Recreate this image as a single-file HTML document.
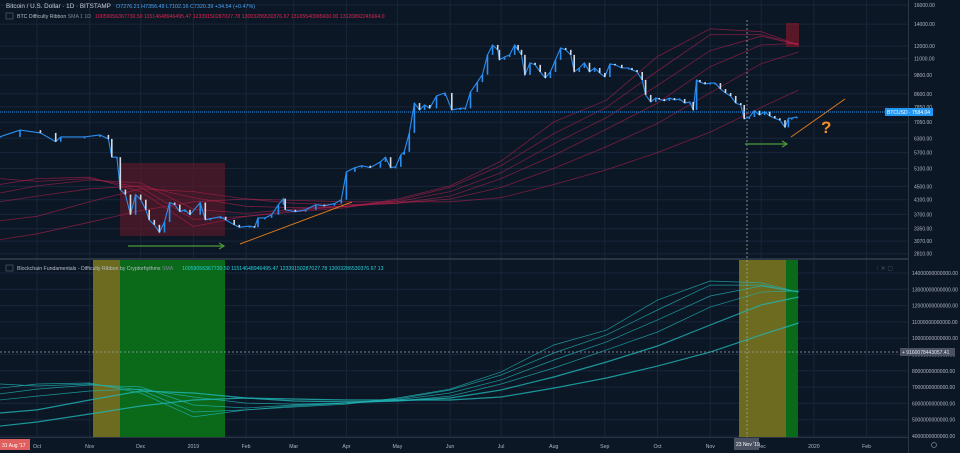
<!DOCTYPE html>
<html><head><meta charset="utf-8"><style>
html,body{margin:0;padding:0;background:#0c1726;}
svg{display:block;font-family:"Liberation Sans",sans-serif;}
</style></head><body>
<svg id="chart" width="960" height="453" viewBox="0 0 960 453" xmlns="http://www.w3.org/2000/svg">
<rect x="0" y="0" width="960" height="453" fill="#0c1726"/>
<g id="grid"></g>
<g id="bands">
<rect x="120" y="163" width="105" height="73" fill="#6b1a2a" opacity="0.55"/>
<rect x="786" y="23" width="13" height="24" fill="#7a1a2a" opacity="0.7"/>
<rect x="93" y="260" width="27" height="177" fill="#6d6b1f"/>
<rect x="120" y="260" width="105" height="177" fill="#0a6a1a"/>
<rect x="739" y="260" width="47" height="177" fill="#6d6b1f"/>
<rect x="786" y="260" width="12" height="177" fill="#0a6a1a"/>
</g>
<g id="ribbonTop"></g>
<g id="ribbonBottom"></g>
<g id="candles"></g>
<line x1="0" y1="112" x2="908" y2="112" stroke="#2196f3" stroke-width="1" stroke-dasharray="1,1"/>
<line x1="747" y1="20" x2="747" y2="437" stroke="#9aa4b4" stroke-width="0.8" stroke-dasharray="2,2"/>
<line x1="0" y1="352" x2="908" y2="352" stroke="#9aa4b4" stroke-width="0.8" stroke-dasharray="2,2"/>
<g>
<line x1="128" y1="246" x2="224" y2="246" stroke="#4e9a3a" stroke-width="1.2"/>
<path d="M219,243 L224,246 L219,249" fill="none" stroke="#4e9a3a" stroke-width="1.2"/>
<line x1="745" y1="144" x2="787" y2="144" stroke="#4e9a3a" stroke-width="1.2"/>
<path d="M782,141 L787,144 L782,147" fill="none" stroke="#4e9a3a" stroke-width="1.2"/>
<line x1="240" y1="244" x2="352" y2="202" stroke="#d8761c" stroke-width="1"/>
<line x1="791" y1="137" x2="845" y2="99" stroke="#d8761c" stroke-width="1"/>
<text x="821" y="133" font-size="17" font-weight="bold" fill="#f0902a">?</text>
</g>
<rect x="0" y="258" width="908" height="2" fill="#2a3544"/>
<rect x="0" y="437" width="960" height="16" fill="#0c1726"/>
<line x1="0" y1="437.5" x2="908" y2="437.5" stroke="#2a3544"/>
<line x1="908.5" y1="0" x2="908.5" y2="453" stroke="#2a3544"/>
<g id="axes"></g>
<g font-size="6.3">
<text x="6" y="8" fill="#c9ced8">Bitcoin / U.S. Dollar · 1D · BITSTAMP</text>
<text x="116" y="8" fill="#4aa3f0" font-size="5.4">O7276.21  H7356.49  L7102.16  C7320.39  +34.54 (+0.47%)</text>
<rect x="6" y="13" width="7" height="6" fill="none" stroke="#5a6575" stroke-width="0.6"/>
<text x="17" y="18" fill="#b8bec8" font-size="5.2">BTC Difficulty Ribbon <tspan fill="#7d8694">SMA 1 1D</tspan></text>
<text x="95" y="18" fill="#e0244f" font-size="5.2">10059056367730.50  11514648946495.47  12339150287027.78  13003286530376.67  13165540995600.00  13120892245664.0</text>
<rect x="6" y="265" width="7" height="6" fill="none" stroke="#5a6575" stroke-width="0.6"/>
<text x="17" y="270" fill="#b8bec8" font-size="5.2">Blockchain Fundamentals - Difficulty Ribbon by Cryptorhythms <tspan fill="#7d8694">SMA</tspan></text>
<text x="182" y="270" fill="#22d0d8" font-size="5.2">10059056367730.50  11514648946495.47  12339150287027.78  13003286530376.67  13</text>
<text x="876" y="270" fill="#4a5565" font-size="6">↑ ✕ ▢</text>
</g>
<g>
<rect x="885" y="108" width="48" height="8" fill="#2196f3"/>
<text x="887" y="114" font-size="5" fill="#ffffff">BTCUSD · 7584.04</text>
<rect x="900" y="348" width="55" height="8" fill="#4a5262"/>
<text x="902" y="354" font-size="5" fill="#e0e3ea">+ 9160078443057.41</text>
<rect x="0" y="439" width="30" height="11" fill="#e06060"/>
<text x="2" y="447" font-size="5" fill="#ffffff">31 Aug '17</text>
<rect x="734" y="438" width="25" height="12" fill="#4a5262"/>
<text x="736" y="446" font-size="5" fill="#ffffff">23 Nov '19</text>
<circle cx="934" cy="445" r="2.5" fill="none" stroke="#7d8694" stroke-width="0.7"/>
</g>
</svg>
<script>
// ---- data ----
const priceTicks = [16000,14000,12000,11000,9800,8600,7850,7050,6300,5700,5100,4500,4100,3700,3350,3070,2810];
const diffTicks = [14,13,12,11,10,9,8,7,6,5,4]; // trillions
const monthLabels = ["Oct","Nov","Dec","2019","Feb","Mar","Apr","May","Jun","Jul","Aug","Sep","Oct","Nov","Dec","2020","Feb"];
const monthDays = [0,31,61,92,123,151,182,212,243,273,304,334,365,396,426,457,488];
// days since 2018-10-01
const days = [-22,-10,2,11,14,28,37,42,44,47,49,52,55,58,61,64,66,69,72,75,78,81,84,87,90,96,99,102,108,111,116,119,125,128,130,134,138,142,145,146,152,158,164,169,175,179,182,187,191,196,202,205,208,211,214,216,219,222,225,228,231,235,240,244,249,252,255,259,262,265,268,271,272,275,278,281,283,285,287,290,293,296,299,302,305,308,311,314,316,319,322,325,328,331,334,337,340,344,348,350,353,356,358,361,364,366,369,372,375,378,381,384,386,388,390,393,396,399,402,405,408,411,414,416,419,422,425,428,431,434,437,440,442,444,447];
const closes = [6360,6670,6540,6150,6360,6360,6450,6270,5520,5520,4400,4250,3690,4250,4100,3820,3560,3440,3260,3510,4020,3960,3770,3820,3690,4020,3560,3590,3640,3560,3440,3380,3410,3380,3610,3610,3690,3960,4130,3820,3770,3820,3960,3930,3990,4100,4980,5130,5200,5130,5340,5520,5130,5160,5610,5730,6540,8060,7680,7950,7770,8470,8650,7680,7770,7770,8710,9330,9830,11290,12100,11690,10900,11120,11290,12100,11690,11290,9810,10680,10530,10020,9600,10020,10900,11850,11690,11290,10020,10300,10680,10020,10300,9950,9670,10600,10530,10300,10300,10160,10020,9470,8530,8120,8350,8290,8180,8350,8240,8290,8060,8120,7680,9470,9330,9200,9270,9270,8890,8650,8470,8060,7950,7210,7310,7640,7410,7590,7360,7250,7150,6800,7250,7250,7320];
const ribbonDays = [-22,0,31,61,92,123,151,182,212,243,273,304,335,365,396,426,448];
// difficulty ribbon values (trillions), fastest to slowest
const sma25  = [6.94,7.19,7.25,6.64,5.17,5.60,5.78,5.96,6.33,6.88,7.93,9.58,10.50,12.34,13.51,13.39,12.83];
const sma40  = [7.19,7.07,7.19,6.82,5.47,5.60,5.84,6.02,6.27,6.82,7.74,9.09,10.20,11.73,13.26,13.26,12.83];
const sma60  = [6.58,6.88,7.13,7.01,5.90,5.72,5.90,6.02,6.21,6.64,7.44,8.66,9.77,11.12,12.59,13.20,12.83];
const sma90  = [6.21,6.45,6.76,6.88,6.39,6.02,5.96,6.02,6.15,6.45,7.19,8.17,9.28,10.38,11.91,12.83,12.90];
const sma128 = [5.41,5.60,6.21,6.76,6.64,6.33,6.15,6.09,6.15,6.33,6.82,7.62,8.54,9.52,10.81,12.04,12.53];
const sma200 = [4.61,4.86,5.35,5.84,6.21,6.33,6.27,6.21,6.21,6.21,6.39,6.94,7.56,8.29,9.15,10.20,10.93];
const ribbons = [sma25,sma40,sma60,sma90,sma128,sma200];

// ---- scales ----
const NS='http://www.w3.org/2000/svg';
const X = d => 37 + d*1.70;
const YP = p => 5 + (Math.log(16000) - Math.log(p))*143;
const YD = v => 436 - (v-4)*16.3;
const YO = v => 349 - v*23.7; // overlay of ribbon on price pane
function mk(tag, attrs, parent){const e=document.createElementNS(NS,tag);for(const k in attrs)e.setAttribute(k,attrs[k]);parent.appendChild(e);return e;}

const grid=document.getElementById('grid'), axes=document.getElementById('axes');
monthDays.forEach((d,i)=>{
  const l=mk('line',{x1:X(d),y1:0,x2:X(d),y2:437,stroke:'#18263a','stroke-width':1},grid);
  
  
  const t=mk('text',{x:X(d),y:448,'font-size':5.2,fill:'#b0b6c0','text-anchor':'middle'},axes);
  t.textContent=monthLabels[i];
  
  
});
priceTicks.forEach(p=>{
  const y=YP(p);
  const l=mk('line',{x1:0,y1:y,x2:908,y2:y,stroke:'#18263a','stroke-width':1},grid);
  
  
  const t=mk('text',{x:914,y:y+2,'font-size':5,fill:'#b0b6c0'},axes);
  t.textContent=p.toFixed(2);
  
  
});
diffTicks.forEach(v=>{
  const y=YD(v);
  const l=mk('line',{x1:0,y1:y,x2:908,y2:y,stroke:'#18263a','stroke-width':1},grid);
  
  
  const t=mk('text',{x:912,y:y+2,'font-size':5,fill:'#b0b6c0'},axes);
  t.textContent=(v*1e12).toFixed(0)+'.00';
  
  
});

const rt=document.getElementById('ribbonTop'), rb=document.getElementById('ribbonBottom');
ribbons.forEach((arr,k)=>{
  const pb=arr.map((v,i)=>X(ribbonDays[i]).toFixed(1)+','+YD(v).toFixed(1)).join(' ');
  const a=mk('polyline',{points:pb,fill:'none',stroke:'#1fb5b5','stroke-width':k>3?1.2:0.7,opacity:0.8},rb);
  
  
  const pt=arr.map((v,i)=>X(ribbonDays[i]).toFixed(1)+','+YO(v).toFixed(1)).join(' ');
  const b=mk('polyline',{points:pt,fill:'none',stroke:'#c0224e','stroke-width':0.8,opacity:0.6},rt);
  
  
});

const cg=document.getElementById('candles');
// connecting price path
const pathPts=closes.map((c,i)=>X(days[i]).toFixed(1)+','+YP(c).toFixed(1)).join(' ');
const pl=mk('polyline',{points:pathPts,fill:'none',stroke:'#2a8ef0','stroke-width':1.1},cg);


for(let i=0;i<closes.length;i++){
  const o=i?closes[i-1]:closes[i], c=closes[i];
  const x1=X(days[i]);
  const up=c>=o;
  const y1=YP(Math.max(o,c)), y2=YP(Math.min(o,c));
  const r=mk('rect',{x:x1-0.8,y:y1,width:1.6,height:Math.max(1.5,y2-y1),fill:up?'#2a8ef0':'#d6d9e0'},cg);
  
  
}
</script>
</body></html>
